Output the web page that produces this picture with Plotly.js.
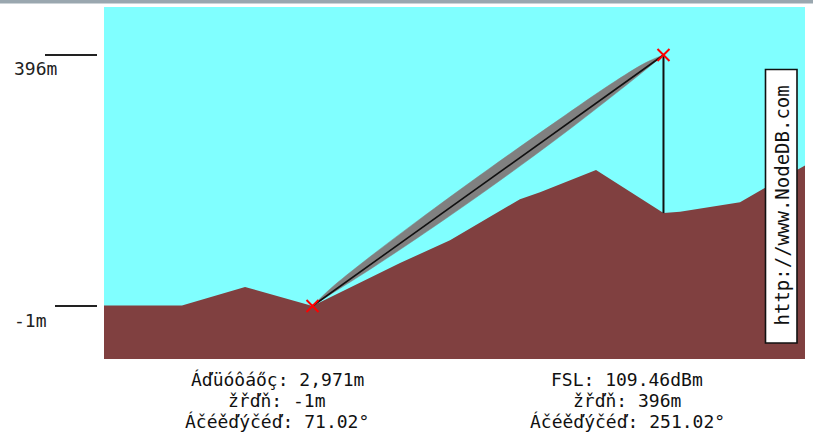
<!DOCTYPE html>
<html>
<head>
<meta charset="utf-8">
<script src="https://cdn.plot.ly/plotly-3.0.1.min.js"></script>
<style>html,body{margin:0;padding:0;background:#fff;}#chart{width:813px;height:437px;}</style>
</head>
<body>
<div id="chart"></div>
<script>
// ---- data (distance in metres from the left node, elevation in metres) ----
var terrainDist = [-1765, -1105, -571, 0, 741, 1164, 1756, 1926, 2400, 2971, 3111, 3619, 3813, 4177];
var terrainElev = [0, 0, 29, -1, 67, 103, 168, 179, 214, 146, 148, 163, 184, 222];

var fresnelDist  = [0, 149, 446, 891, 1486, 2080, 2525, 2822, 2971];
var fresnelUpper = [-1, 26, 71, 134, 215, 293, 350, 384, 396];
var fresnelLower = [-1, 17, 52, 107, 184, 265, 329, 373, 396];

var nodeDist = [0, 2971];
var nodeElev = [-1, 396];

var tickVals   = [396, -1];
var tickLabels = ['396m', '-1m'];

var leftInfo  = ['Áďüóôáőç: 2,971m', 'žřďň: -1m', 'Áčéěďýčéď: 71.02°'];
var rightInfo = ['FSL: 109.46dBm', 'žřďň: 396m', 'Áčéěďýčéď: 251.02°'];
var watermark = 'http://www.NodeDB.com';

// ---- layout constants ----
var X_RANGE = [-1765, 4169];
var Y_RANGE = [-84.8, 471.9];
var MONO = 'DejaVu Sans Mono, monospace';

var mastBase = terrainElev[terrainDist.indexOf(nodeDist[1])];

var traces = [
  { // base for terrain fill
    x: [terrainDist[0], terrainDist[terrainDist.length - 1]],
    y: [Y_RANGE[0], Y_RANGE[0]],
    mode: 'lines', line: {width: 0, color: 'rgba(0,0,0,0)'}, showlegend: false
  },
  {
    x: terrainDist, y: terrainElev, mode: 'lines', fill: 'tonexty',
    fillcolor: '#804040', line: {width: 0, color: '#804040'}, showlegend: false
  },
  {
    x: fresnelDist, y: fresnelLower, mode: 'lines',
    line: {width: 0.5, color: '#808080', shape: 'spline'}, showlegend: false
  },
  {
    x: fresnelDist, y: fresnelUpper, mode: 'lines', fill: 'tonexty',
    fillcolor: '#808080', line: {width: 0.5, color: '#808080', shape: 'spline'}, showlegend: false
  },
  {
    x: nodeDist, y: nodeElev, mode: 'lines',
    line: {width: 1.6, color: '#111'}, showlegend: false
  },
  {
    x: [nodeDist[1], nodeDist[1]], y: [mastBase, nodeElev[1]], mode: 'lines',
    line: {width: 2, color: '#111'}, showlegend: false
  },
  {
    x: nodeDist, y: nodeElev, mode: 'markers',
    marker: {symbol: 'x-thin', size: 12, line: {width: 2, color: '#ff0000'}, color: '#ff0000'},
    showlegend: false
  }
];

function px2paperX(px) { return (px - 104) / 701; }
function px2paperY(py) { return (359 - py) / 352; }

var shapes = [
  { type: 'rect', xref: 'paper', yref: 'paper', x0: px2paperX(0), x1: px2paperX(813),
    y0: px2paperY(3.5), y1: px2paperY(0), fillcolor: '#9aa7af', line: {width: 0} },
  { type: 'line', xref: 'paper', yref: 'y', x0: px2paperX(45), x1: px2paperX(97),
    y0: tickVals[0], y1: tickVals[0], line: {width: 2, color: '#222'} },
  { type: 'line', xref: 'paper', yref: 'y', x0: px2paperX(55), x1: px2paperX(97),
    y0: tickVals[1], y1: tickVals[1], line: {width: 2, color: '#222'} },
  { type: 'rect', xref: 'paper', yref: 'paper', x0: px2paperX(765.5), x1: px2paperX(797),
    y0: px2paperY(343), y1: px2paperY(69.5), fillcolor: '#ffffff', line: {width: 1.6, color: '#111'} }
];

var annotations = [];
tickVals.forEach(function (v, i) {
  annotations.push({ xref: 'paper', yref: 'y', x: px2paperX(12), y: v, yshift: -14,
    xanchor: 'left', yanchor: 'middle', showarrow: false, text: tickLabels[i],
    font: {family: MONO, size: 18, color: '#222'} });
});
var lineY = [379, 400, 421];
leftInfo.forEach(function (t, i) {
  annotations.push({ xref: 'paper', yref: 'paper', x: px2paperX(277), y: px2paperY(lineY[i]),
    xanchor: 'center', yanchor: 'middle', showarrow: false, text: t,
    font: {family: MONO, size: 18, color: '#111'} });
});
rightInfo.forEach(function (t, i) {
  annotations.push({ xref: 'paper', yref: 'paper', x: px2paperX(627), y: px2paperY(lineY[i]),
    xanchor: 'center', yanchor: 'middle', showarrow: false, text: t,
    font: {family: MONO, size: 18, color: '#111'} });
});
annotations.push({ xref: 'paper', yref: 'paper', x: px2paperX(781.5), y: px2paperY(206),
  xanchor: 'center', yanchor: 'middle', showarrow: false, text: watermark, textangle: -90,
  font: {family: MONO, size: 19, color: '#111'} });

var layout = {
  width: 813, height: 437,
  margin: {l: 104, r: 8, t: 7, b: 78, pad: 0},
  paper_bgcolor: '#ffffff', plot_bgcolor: '#80ffff',
  xaxis: {range: X_RANGE, visible: false, fixedrange: true, showgrid: false, zeroline: false},
  yaxis: {range: Y_RANGE, visible: false, fixedrange: true, showgrid: false, zeroline: false},
  showlegend: false, hovermode: false,
  shapes: shapes, annotations: annotations
};

Plotly.newPlot('chart', traces, layout, {displayModeBar: false, staticPlot: true});
</script>
</body>
</html>
